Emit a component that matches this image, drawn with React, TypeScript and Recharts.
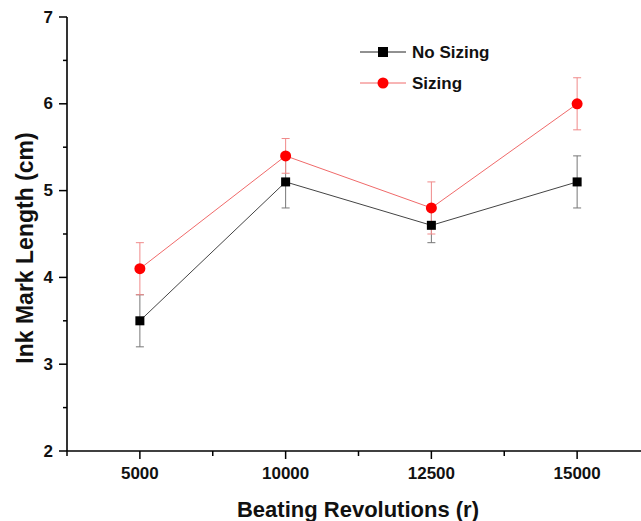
import React from 'react';
import { LineChart, Line, XAxis, YAxis, ErrorBar, Legend } from 'recharts';

const categories = ['5000', '10000', '12500', '15000'];
const noSizing = [3.5, 5.1, 4.6, 5.1];
const noSizingErr = [0.3, 0.3, 0.2, 0.3];
const sizing = [4.1, 5.4, 4.8, 6.0];
const sizingErr = [0.3, 0.2, 0.3, 0.3];

const xTicks = [0.5, 1, 1.5, 2, 2.5, 3, 3.5, 4, 4.5];
const yTicks = [2, 2.5, 3, 3.5, 4, 4.5, 5, 5.5, 6, 6.5, 7];

const FONT = 'Arial, "Liberation Sans", sans-serif';

const data = categories.map((c, i) => ({
  idx: i + 1,
  label: c,
  noSizing: noSizing[i],
  noSizingErr: noSizingErr[i],
  sizing: sizing[i],
  sizingErr: sizingErr[i],
}));

const XTick = (props: any) => {
  const { x, y, payload } = props;
  const v = payload.value as number;
  const major = Number.isInteger(v);
  return (
    <g>
      <line x1={x} x2={x} y1={y} y2={y + (major ? 8 : 5)} stroke="#000" strokeWidth={1.5} />
      {major && (
        <text x={x} y={y + 22} textAnchor="middle" dominantBaseline="central"
          fontFamily={FONT} fontSize={17} fontWeight="bold" fill="#111">
          {categories[v - 1]}
        </text>
      )}
    </g>
  );
};

const YTick = (props: any) => {
  const { x, y, payload } = props;
  const v = payload.value as number;
  const major = Number.isInteger(v);
  return (
    <g>
      <line x1={x - (major ? 8 : 4)} x2={x} y1={y} y2={y} stroke="#000" strokeWidth={1.5} />
      {major && (
        <text x={x - 14} y={y} textAnchor="end" dominantBaseline="central"
          fontFamily={FONT} fontSize={17} fontWeight="bold" fill="#111">
          {v}
        </text>
      )}
    </g>
  );
};

const SquareDot = (props: any) => {
  const { cx, cy } = props;
  if (cx == null || cy == null) return null;
  return <rect x={cx - 4.5} y={cy - 4.5} width={9} height={9} fill="#000" />;
};

const CircleDot = (props: any) => {
  const { cx, cy } = props;
  if (cx == null || cy == null) return null;
  return <circle cx={cx} cy={cy} r={5.5} fill="#ff0000" />;
};

const LegendBox = () => (
  <svg width={170} height={64}>
    <line x1={5} x2={51} y1={16} y2={16} stroke="#222" strokeWidth={1} />
    <rect x={23} y={11} width={10} height={10} fill="#000" />
    <text x={57} y={16} dominantBaseline="central" fontFamily={FONT} fontSize={17} fontWeight="bold" fill="#111">
      No Sizing
    </text>
    <line x1={5} x2={51} y1={47} y2={47} stroke="#f06a6a" strokeWidth={1} />
    <circle cx={28} cy={47} r={5.5} fill="#ff0000" />
    <text x={57} y={47} dominantBaseline="central" fontFamily={FONT} fontSize={17} fontWeight="bold" fill="#111">
      Sizing
    </text>
  </svg>
);

export default function App() {
  return (
    <div style={{ position: 'fixed', left: 0, top: 0, width: 641, height: 521, overflow: 'hidden', background: '#fff' }}>
      <LineChart width={660} height={521} data={data} margin={{ top: 17, right: 10, left: 0, bottom: 0 }}>
        <XAxis
          dataKey="idx"
          type="number"
          domain={[0.5, 4.5]}
          ticks={xTicks}
          interval={0}
          height={70}
          tickSize={0}
          tickMargin={0}
          tickLine={false}
          tick={<XTick />}
          axisLine={{ stroke: '#000', strokeWidth: 1.6 }}
          label={{
            content: () => (
              <text x={358} y={509} textAnchor="middle" dominantBaseline="central"
                fontFamily={FONT} fontSize={22} fontWeight="bold" fill="#111">
                Beating Revolutions (r)
              </text>
            ),
          }}
        />
        <YAxis
          type="number"
          domain={[2, 7]}
          ticks={yTicks}
          interval={0}
          width={67}
          tickSize={0}
          tickMargin={0}
          tickLine={false}
          tick={<YTick />}
          axisLine={{ stroke: '#000', strokeWidth: 1.6 }}
          label={{
            content: () => (
              <text x={25} y={248} textAnchor="middle" dominantBaseline="central"
                transform="rotate(-90, 25, 248)"
                fontFamily={FONT} fontSize={23} fontWeight="bold" fill="#111">
                Ink Mark Length (cm)
              </text>
            ),
          }}
        />
        <Legend
          layout="vertical"
          align="center"
          verticalAlign="middle"
          wrapperStyle={{ left: 355, top: 36, width: 170 }}
          content={() => <LegendBox />}
        />
        <Line
          type="linear"
          dataKey="noSizing"
          name="No Sizing"
          stroke="#444"
          strokeWidth={1}
          dot={<SquareDot />}
          activeDot={false}
          isAnimationActive={false}
        >
          <ErrorBar dataKey="noSizingErr" direction="y" width={4} stroke="#777" strokeWidth={1} />
        </Line>
        <Line
          type="linear"
          dataKey="sizing"
          name="Sizing"
          stroke="#f06a6a"
          strokeWidth={1}
          dot={<CircleDot />}
          activeDot={false}
          isAnimationActive={false}
        >
          <ErrorBar dataKey="sizingErr" direction="y" width={4} stroke="#f08a8a" strokeWidth={1} />
        </Line>
      </LineChart>
    </div>
  );
}
